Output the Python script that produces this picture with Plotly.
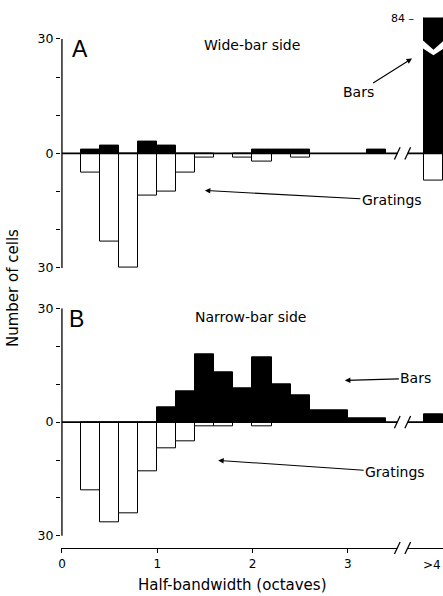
import plotly.graph_objects as go

# ---------------- data ----------------
bin_centers = [0.3, 0.5, 0.7, 0.9, 1.1, 1.3, 1.5, 1.7, 1.9, 2.1, 2.3, 2.5, 2.7, 2.9, 3.1, 3.3, 3.9]
a_bars = [1, 2, 0, 3, 2, 0, 0, 0, 0, 1, 1, 1, 0, 0, 0, 1, 84]
a_gratings = [5, 23, 30, 11, 10, 5, 1, 0, 1, 2, 0, 1, 0, 0, 0, 0, 7]
b_bars = [0, 0, 0, 0, 4, 8, 18, 13, 9, 17, 10, 7, 3, 3, 1, 1, 2]
b_gratings = [18, 26.5, 24, 13, 7, 5, 1, 1, 0, 1, 0, 0, 0, 0, 0, 0, 0]
x_tick_vals = [0, 1, 2, 3]
x_tick_text = ["0", "1", "2", "3"]
last_bin_label = ">4"
y_tick_vals = [-30, -20, -10, 0, 10, 20, 30]
y_tick_text = ["30", "", "", "0", "", "", "30"]
bin_width = 0.2

FONT = "DejaVu Sans"
XMIN, XMAX = -0.01, 4.0
BREAK_L, BREAK_R = 3.52, 3.63
A_RANGE = [-30.3, 35.6]
B_RANGE = [-33.2, 30]


def pos(vals):
    return [v if v else None for v in vals]


def neg(vals):
    return [-v if v else None for v in vals]


fig = go.Figure()
for xa, ya, bars, grat in (("x", "y", a_bars, a_gratings), ("x2", "y2", b_bars, b_gratings)):
    fig.add_trace(go.Bar(x=bin_centers, y=neg(grat), width=bin_width, xaxis=xa, yaxis=ya,
                         marker=dict(color="white", line=dict(color="black", width=1)),
                         showlegend=False, hoverinfo="skip"))
    fig.add_trace(go.Bar(x=bin_centers, y=pos(bars), width=bin_width, xaxis=xa, yaxis=ya,
                         marker=dict(color="black", line=dict(color="black", width=1)),
                         showlegend=False, hoverinfo="skip"))

shapes = []
line_k = dict(color="black", width=1.3)
for xr, yr in (("x", "y"), ("x2", "y2")):
    shapes.append(dict(type="line", xref=xr, yref=yr, x0=0, x1=0, y0=-30, y1=30, line=line_k))
    shapes.append(dict(type="line", xref=xr, yref=yr, x0=0, x1=BREAK_L, y0=0, y1=0, line=dict(color="black", width=1.8), layer="above"))
    shapes.append(dict(type="line", xref=xr, yref=yr, x0=BREAK_R, x1=XMAX, y0=0, y1=0, line=dict(color="black", width=1.8), layer="above"))
    for bx in (BREAK_L, BREAK_R):
        shapes.append(dict(type="line", xref=xr, yref=yr, x0=bx - 0.03, x1=bx + 0.03, y0=-1.6, y1=1.6, line=line_k))


def xp(x):
    return (x - XMIN) / (XMAX - XMIN)


shapes.append(dict(type="rect", xref="paper", yref="paper", x0=xp(BREAK_L), x1=xp(BREAK_R), y0=-0.005, y1=0.005,
                   fillcolor="white", line=dict(width=0), layer="above"))
for bx in (BREAK_L, BREAK_R):
    shapes.append(dict(type="line", xref="paper", yref="paper", x0=xp(bx - 0.03), x1=xp(bx + 0.03), y0=-0.011, y1=0.011,
                       line=line_k, layer="above"))

shapes.append(dict(type="path", xref="x", yref="y",
                   path="M 3.79 29.6 L 3.9 27.2 L 4.01 29.6 L 4.01 27.5 L 3.9 25.7 L 3.79 27.5 Z",
                   fillcolor="white", line=dict(width=0), layer="above"))

ann = []


def txt(text, x, y, size, xref="x", yref="y", **kw):
    d = dict(text=text, x=x, y=y, xref=xref, yref=yref, showarrow=False,
             xanchor="center", yanchor="middle",
             font=dict(family=kw.pop("family", FONT), size=size, color="black"))
    d.update(kw)
    ann.append(d)


def arrow(text, x, y, ax, ay, xref, yref, size=14):
    ann.append(dict(text=text, x=x, y=y, xref=xref, yref=yref, ax=ax, ay=ay, showarrow=True,
                    arrowhead=2, arrowsize=1, arrowwidth=1.1, arrowcolor="black", standoff=0,
                    font=dict(family=FONT, size=size, color="black")))


txt("A", 0.19, 27.3, 23, family="Liberation Sans")
txt("Wide-bar side", 2.0, 28.3, 14)
txt("84 –", 3.57, 35.4, 11)
arrow("Bars", 3.675, 24.9, -54, 34, "x", "y")
arrow("Gratings", 1.5, -9.7, 187, 10, "x", "y")

txt("B", 0.15, 27.3, 23, xref="x2", yref="y2", family="Liberation Sans")
txt("Narrow-bar side", 1.98, 27.6, 14, xref="x2", yref="y2")
arrow("Bars", 2.97, 11, 71, -2, "x2", "y2")
arrow("Gratings", 1.64, -10.1, 177, 12, "x2", "y2")

txt(last_bin_label, 3.995, -0.032, 12, xref="x2", yref="paper", xanchor="right")
txt("Number of cells", -0.126, 0.483, 15, xref="paper", yref="paper", textangle=-90)
txt("Half-bandwidth (octaves)", 0.449, -0.069, 15, xref="paper", yref="paper")

yax = dict(tickvals=y_tick_vals, ticktext=y_tick_text, ticks="outside", ticklen=4, tickwidth=1,
           tickcolor="black", showgrid=False, zeroline=False, showline=False,
           tickfont=dict(family=FONT, size=12.5, color="black"), fixedrange=True)

fig.update_layout(
    width=443, height=596,
    margin=dict(l=61, r=0, t=10, b=48),
    paper_bgcolor="white", plot_bgcolor="white",
    barmode="overlay", bargap=0,
    xaxis=dict(domain=[0, 1], range=[XMIN, XMAX], anchor="y", visible=False),
    yaxis=dict(domain=[0.5184, 0.9859], range=A_RANGE, anchor="x", **yax),
    xaxis2=dict(domain=[0, 1], range=[XMIN, XMAX], anchor="y2", tickvals=x_tick_vals, ticktext=x_tick_text,
                ticks="outside", ticklen=4, tickcolor="black", showgrid=False, zeroline=False,
                showline=True, linecolor="black", linewidth=1.3,
                tickfont=dict(family=FONT, size=12, color="black")),
    yaxis2=dict(domain=[0, 0.4455], range=B_RANGE, anchor="x2", **yax),
    shapes=shapes, annotations=ann,
)

fig.write_html("out.html", config={"displayModeBar": False},
               post_script="document.body.style.margin='0';document.body.style.overflow='hidden';")
